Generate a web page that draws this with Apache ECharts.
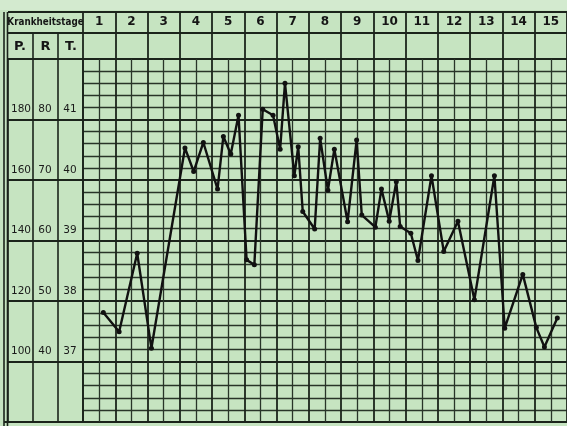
<!DOCTYPE html>
<html><head><meta charset="utf-8">
<script src="https://cdn.jsdelivr.net/npm/echarts@6/dist/echarts.min.js"></script>
<style>html,body{margin:0;padding:0;background:#c6e4c1;}#c{width:567px;height:426px;}</style>
</head><body><div id="c"></div>
<script>
// Day numbers shown in the header
const dayLabels = ['1','2','3','4','5','6','7','8','9','10','11','12','13','14','15'];
// Position of each reading along the time axis (in days from start)
const dayPos = [0.63,1.12,1.68,2.12,3.16,3.43,3.73,4.17,4.35,4.58,4.82,5.07,5.31,5.57,5.89,6.11,6.26,6.55,6.67,6.81,
                7.18,7.35,7.59,7.79,8.20,8.48,8.64,9.06,9.25,9.49,9.71,9.83,10.16,10.38,10.80,11.18,11.62,12.13,12.75,13.07,
                13.63,14.05,14.30,14.70];
// Temperature readings (°C)
const temps = [37.81,37.49,38.79,37.22,40.53,40.14,40.62,39.85,40.72,40.43,41.07,38.68,38.60,41.17,41.07,40.51,41.60,40.07,40.55,39.48,
               39.19,40.69,39.83,40.51,39.31,40.66,39.42,39.22,39.85,39.32,39.97,39.23,39.12,38.67,40.07,38.82,39.32,38.02,40.07,37.55,
               38.44,37.56,37.24,37.72];
// Scale labels: pulse (P), respiration (R), temperature (T)
const pTicks = [100,120,140,160,180];
const rTicks = [40,50,60,70,80];
const tTicks = [37,38,39,40,41];

const LINE = '#1b241b';
const MINOR = '#283428';
const chart = echarts.init(document.getElementById('c'), null, {renderer:'canvas'});
const hide = {axisLine:{show:false}, axisTick:{show:false}};
const lblStyle = {color:'#1a1a1a', fontFamily:'DejaVu Sans', fontSize:10.5, inside:true, align:'center', verticalAlign:'bottom', lineHeight:20};

chart.setOption({
  animation:false,
  backgroundColor:'#c6e4c1',
  grid:[
    {left:83, top:59, width:487, height:363},
    {left:83, top:12, width:487, height:47},
    {left:8, top:59, width:75, height:363}
  ],
  xAxis:[
    Object.assign({gridIndex:0, type:'value', position:'bottom', min:0, max:15, interval:1, axisLabel:{show:false},
      splitLine:{show:true, lineStyle:{color:LINE, width:1.8}},
      minorTick:{show:false, splitNumber:2}, minorSplitLine:{show:true, lineStyle:{color:MINOR, width:1.3}}}, hide),
    Object.assign({gridIndex:1, type:'category', data:dayLabels, position:'top', boundaryGap:true,
      axisLabel:{inside:true, margin:10, verticalAlign:'middle', color:'#151515', fontFamily:'DejaVu Sans', fontWeight:'bold', fontSize:12},
      splitLine:{show:true, interval:0, lineStyle:{color:LINE, width:1.8}}}, hide),
    Object.assign({gridIndex:2, type:'value', position:'bottom', min:0, max:3, interval:1, axisLabel:{show:false},
      splitLine:{show:true, lineStyle:{color:LINE, width:1.6}}}, hide)
  ],
  yAxis:[
    Object.assign({gridIndex:0, type:'value', position:'left', min:36, max:42, interval:1, axisLabel:{show:false},
      splitLine:{show:true, lineStyle:{color:LINE, width:1.9}},
      minorTick:{show:false, splitNumber:5}, minorSplitLine:{show:true, lineStyle:{color:MINOR, width:1.3}}}, hide),
    Object.assign({gridIndex:1, type:'value', position:'left', min:0, max:47, interval:26, axisLabel:{show:false},
      splitLine:{show:true, lineStyle:{color:LINE, width:1.8}}}, hide),
    Object.assign({gridIndex:2, type:'value', position:'left', min:36, max:42, interval:1,
      axisLabel:Object.assign({}, lblStyle, {margin:62, formatter:v => tTicks.includes(Math.round(v)) ? String(Math.round(v)) : ''}),
      splitLine:{show:true, lineStyle:{color:LINE, width:1.9}}}, hide),
    Object.assign({gridIndex:2, type:'value', position:'left', min:30, max:90, interval:10,
      axisLabel:Object.assign({}, lblStyle, {margin:37, formatter:v => rTicks.includes(Math.round(v)) ? String(Math.round(v)) : ''}),
      splitLine:{show:false}}, hide),
    Object.assign({gridIndex:2, type:'value', position:'left', min:80, max:200, interval:20,
      axisLabel:Object.assign({}, lblStyle, {margin:13, formatter:v => pTicks.includes(Math.round(v)) ? String(Math.round(v)) : ''}),
      splitLine:{show:false}}, hide)
  ],
  series:[{
    type:'line', xAxisIndex:0, yAxisIndex:0,
    data: dayPos.map((d,i) => [d, temps[i]]),
    symbol:'circle', symbolSize:5, showSymbol:true,
    itemStyle:{color:'#111'}, lineStyle:{color:'#111', width:2.4}, z:5
  }],
  graphic:[
    {type:'rect', shape:{x:0, y:0, width:567, height:10}, style:{fill:'#d3eacf'}, z:-1},
    {type:'line', shape:{x1:8, y1:12, x2:570, y2:12}, style:{stroke:LINE, lineWidth:2.2}},
    {type:'line', shape:{x1:8, y1:33, x2:83, y2:33}, style:{stroke:LINE, lineWidth:1.8}},
    {type:'line', shape:{x1:33, y1:33, x2:33, y2:59}, style:{stroke:LINE, lineWidth:1.6}},
    {type:'line', shape:{x1:58, y1:33, x2:58, y2:59}, style:{stroke:LINE, lineWidth:1.6}},
    {type:'line', shape:{x1:8, y1:59, x2:83, y2:59}, style:{stroke:LINE, lineWidth:1.8}},
    {type:'line', shape:{x1:4, y1:12, x2:4, y2:426}, style:{stroke:LINE, lineWidth:1.6}},
    {type:'line', shape:{x1:7.5, y1:12, x2:7.5, y2:426}, style:{stroke:LINE, lineWidth:1.6}},
    {type:'line', shape:{x1:4, y1:422, x2:570, y2:422}, style:{stroke:LINE, lineWidth:2}},
    {type:'text', x:45.5, y:22.5, scaleX:0.8, style:{text:'Krankheitstage', fontFamily:'DejaVu Sans', fontWeight:'bold', fontSize:11, fill:'#151515', align:'center', verticalAlign:'middle'}},
    {type:'text', x:20, y:46.5, style:{text:'P.', fontFamily:'DejaVu Sans', fontWeight:'bold', fontSize:13, fill:'#151515', align:'center', verticalAlign:'middle'}},
    {type:'text', x:45.5, y:46.5, style:{text:'R', fontFamily:'DejaVu Sans', fontWeight:'bold', fontSize:13, fill:'#151515', align:'center', verticalAlign:'middle'}},
    {type:'text', x:71, y:46.5, style:{text:'T.', fontFamily:'DejaVu Sans', fontWeight:'bold', fontSize:13, fill:'#151515', align:'center', verticalAlign:'middle'}}
  ]
});
</script></body></html>
